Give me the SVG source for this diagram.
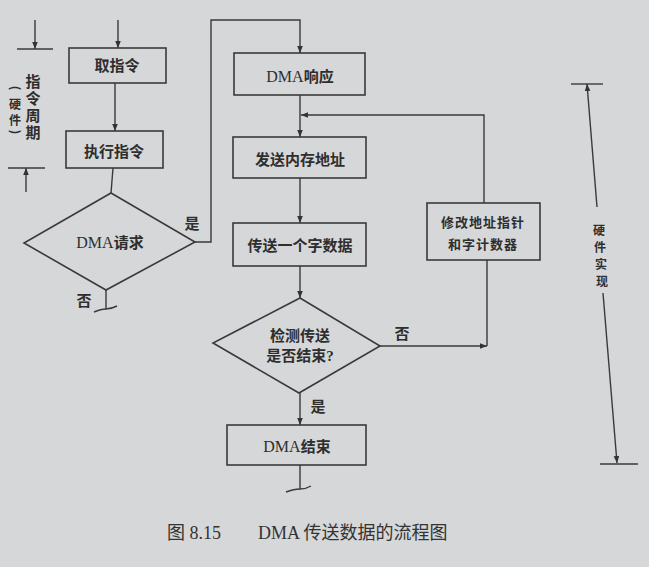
<svg xmlns="http://www.w3.org/2000/svg" width="649" height="567" viewBox="0 0 649 567">
<defs>
<marker id="ah" viewBox="0 0 10 10" refX="10" refY="5" markerWidth="7" markerHeight="7" orient="auto" markerUnits="userSpaceOnUse">
<path d="M0,1 L10,5 L0,9 Z" fill="#333"/>
</marker>
<style>
.bg{fill:#d6d7d9}
.box{fill:none;stroke:#3a3a3a;stroke-width:1.6}
.ln{fill:none;stroke:#3a3a3a;stroke-width:1.4}
.t{font-family:"Liberation Serif","Noto Sans CJK SC",serif;font-size:15px;font-weight:bold;fill:#2e2e2e;text-anchor:middle}
.d{font-weight:normal;font-size:16px}
.s{font-family:"Noto Sans CJK SC",sans-serif;font-size:13px;font-weight:bold;fill:#2e2e2e;text-anchor:middle}
.v{font-family:"Noto Sans CJK SC",sans-serif;font-size:12px;font-weight:bold;fill:#2e2e2e;text-anchor:middle}
.cap{font-family:"Liberation Serif","Noto Sans CJK SC",serif;font-size:18px;fill:#333}
</style>
</defs>
<rect class="bg" x="0" y="0" width="649" height="567"/>

<g id="connectors">
<path class="ln" d="M118,20 V48" marker-end="url(#ah)"/>
<path class="ln" d="M115,83 V131" marker-end="url(#ah)"/>
<path class="ln" d="M113,168 L111,193"/>
<path class="ln" d="M195,242 H211 V20 H300 V53" marker-end="url(#ah)"/>
<path class="ln" d="M300,95 V137" marker-end="url(#ah)"/>
<path class="ln" d="M300,178 V223" marker-end="url(#ah)"/>
<path class="ln" d="M300,266 V298" marker-end="url(#ah)"/>
<path class="ln" d="M380,346 H487" marker-end="url(#ah)"/>
<path class="ln" d="M487,346 V260"/>
<path class="ln" d="M484,203 V115 H301" marker-end="url(#ah)"/>
<path class="ln" d="M300,393 V425" marker-end="url(#ah)"/>
<path class="ln" d="M300,465 V489"/>
<path class="ln" d="M286,492 Q294,489 300,489 T311,486"/>
<path class="ln" d="M106,290 V309"/>
<path class="ln" d="M94,312 Q101,309 106,309 T117,306"/>
</g>

<g id="fetch"><rect class="box" x="69" y="48" width="97" height="35"/><text class="t" x="117" y="71">取指令</text></g>
<g id="execute"><rect class="box" x="66" y="131" width="97" height="37"/><text class="t" x="114" y="157">执行指令</text></g>
<g id="dma-request"><path class="box" d="M111,193 L195,242 L106,290 L24,243 Z"/><text class="t" x="110" y="248"><tspan class="d">DMA</tspan>请求</text></g>
<g id="dma-ack"><rect class="box" x="234" y="53" width="131" height="42"/><text class="t" x="300" y="82"><tspan class="d">DMA</tspan>响应</text></g>
<g id="send-addr"><rect class="box" x="233" y="137" width="133" height="41"/><text class="t" x="300" y="165">发送内存地址</text></g>
<g id="send-word"><rect class="box" x="233" y="223" width="133" height="43"/><text class="t" x="300" y="251">传送一个字数据</text></g>
<g id="check-end"><path class="box" d="M300,298 L380,346 L299,393 L213,343 Z"/><text class="t" x="300" y="341">检测传送</text><text class="t" x="300" y="361">是否结束?</text></g>
<g id="modify"><rect class="box" x="427" y="203" width="113" height="57"/><text class="s" x="483" y="227" letter-spacing="1">修改地址指针</text><text class="s" x="483" y="249" letter-spacing="1">和字计数器</text></g>
<g id="dma-end"><rect class="box" x="227" y="425" width="139" height="40"/><text class="t" x="297" y="452"><tspan class="d">DMA</tspan>结束</text></g>

<g id="labels">
<text class="t" x="192" y="229" font-size="14">是</text>
<text class="t" x="84" y="306" font-size="14">否</text>
<text class="t" x="402" y="339" font-size="14">否</text>
<text class="t" x="318" y="412" font-size="14">是</text>
</g>

<g id="instr-cycle">
<path class="ln" d="M17,49 H53"/>
<path class="ln" d="M35,20 V49" marker-end="url(#ah)"/>
<path class="ln" d="M8,168 H45"/>
<path class="ln" d="M26,192 V168" marker-end="url(#ah)"/>
<text class="t" x="33" y="87" font-size="14">指</text>
<text class="t" x="33" y="104" font-size="14">令</text>
<text class="t" x="33" y="121" font-size="14">周</text>
<text class="t" x="33" y="138" font-size="14">期</text>
<text class="v" x="15" y="92" transform="rotate(90 15 88)" font-size="11">(</text>
<text class="v" x="15" y="109">硬</text>
<text class="v" x="15" y="125">件</text>
<text class="v" x="15" y="136" transform="rotate(90 15 132)" font-size="11">)</text>
</g>

<g id="hw-impl">
<path class="ln" d="M571,84 H603"/>
<path class="ln" d="M597,207 L587,84" marker-end="url(#ah)"/>
<path class="ln" d="M603,293 L617,463" marker-end="url(#ah)"/>
<path class="ln" d="M600,464 H638"/>
<text class="v" x="599" y="235">硬</text>
<text class="v" x="600" y="252">件</text>
<text class="v" x="601" y="269">实</text>
<text class="v" x="602" y="286">现</text>
</g>

<text class="cap" x="167" y="539">图 8.15<tspan x="258">DMA 传送数据的流程图</tspan></text>
</svg>
